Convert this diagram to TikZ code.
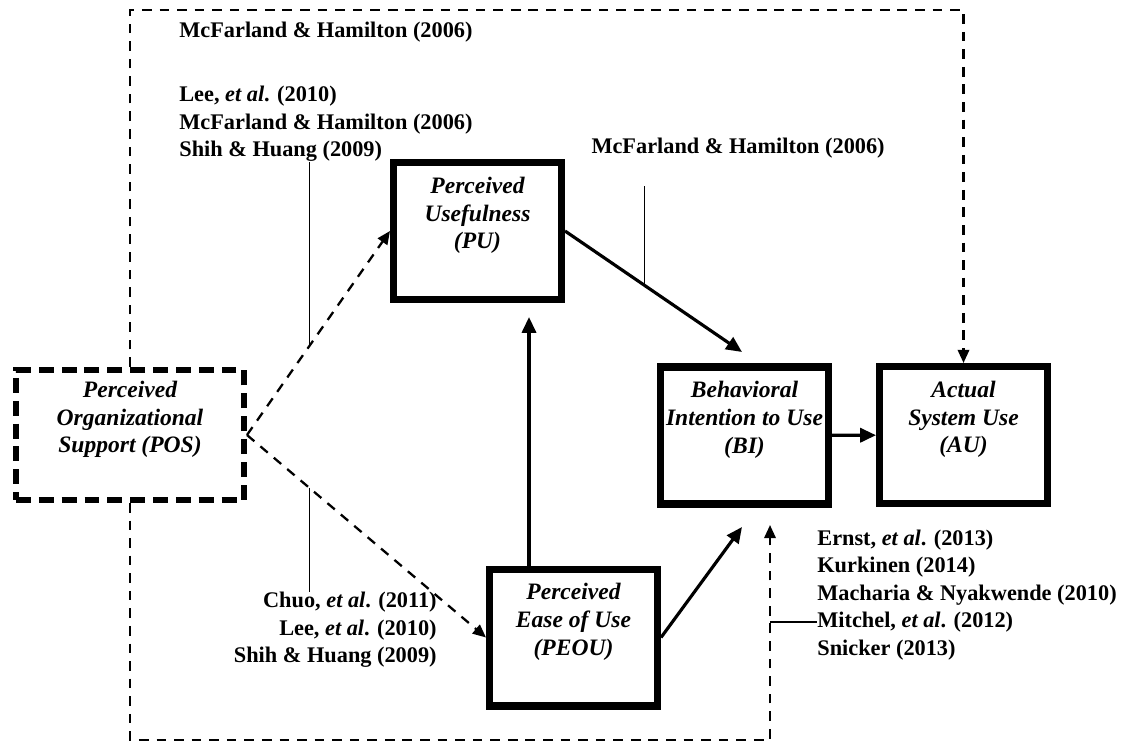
\documentclass[tikz,border=0pt]{standalone}
\usepackage{fontspec}
\setmainfont{Liberation Serif}
\usetikzlibrary{arrows.meta}

\begin{document}
\begin{tikzpicture}
  [x=0.02cm,y=-0.02cm,
  box/.style={draw,line width=4pt,minimum width=3.36cm,minimum height=2.74cm,inner sep=0pt,align=center,font=\fontsize{13.4}{15.9}\selectfont\bfseries\itshape},
  posbox/.style={box,line width=3.4pt,dash pattern=on 8.5pt off 4.5pt,minimum width=4.56cm,minimum height=2.6cm},
  ref/.style={inner sep=0pt,font=\fontsize{12.7}{15.6}\selectfont\bfseries},
  arr/.style={line width=1.8pt,-{Triangle[length=9pt,width=8pt]}},
  dasharr/.style={line width=1.3pt,dash pattern=on 5.5pt off 4.5pt,-{Triangle[length=7.5pt,width=6.5pt]}},
  lead/.style={line width=0.6pt}]
  \useasboundingbox (0,0) rectangle (1141,742);

  \node[posbox] (pos) at (130,435) {Perceived\\Organizational\\Support (POS)\\\strut};
  \node[box] (pu) at (477.5,231) {Perceived\\Usefulness\\(PU)\\\strut};
  \node[box] (peou) at (573.5,637.5) {Perceived\\Ease of Use\\(PEOU)\\\strut};
  \node[box] (bi) at (744.5,435.5) {Behavioral\\Intention to Use\\(BI)\\\strut};
  \node[box] (au) at (963.5,435) {Actual\\System Use\\(AU)\\\strut};

  \node[ref,anchor=west] (r1) at (179,32) {McFarland \& Hamilton (2006)};
  \node[ref,anchor=west,align=left] (r2) at (179,124) {Lee, \textit{et al}. (2010)\\McFarland \& Hamilton (2006)\\Shih \& Huang (2009)};
  \node[ref,anchor=east] (r3) at (885,148) {McFarland \& Hamilton (2006)};
  \node[ref,anchor=east,align=right] (r4) at (437,630) {Chuo, \textit{et al}. (2011)\\Lee, \textit{et al}. (2010)\\Shih \& Huang (2009)};
  \node[ref,anchor=west,align=left] (r5) at (817,595) {Ernst, \textit{et al}. (2013)\\Kurkinen (2014)\\Macharia \& Nyakwende (2010)\\Mitchel, \textit{et al}. (2012)\\Snicker (2013)};

  \coordinate (topline) at (0,10);
  \coordinate (botline) at (0,740);
  \coordinate (puin) at (529,317);
  \coordinate (bitop) at (742,352);
  \coordinate (bibot) at (742,527);
  \coordinate (bifb) at (770,525);
  \coordinate (m4) at (770,622);

  \draw [dasharr] (pos.north) -- (pos.north |- topline) -| (au.north);
  \draw [dasharr] (pos.south) -- (pos.south |- botline) -| (bifb);
  \draw [dasharr] (pos.east) -- coordinate[pos=0.44] (m1) (pu.west);
  \draw [dasharr] (pos.east) -- coordinate[pos=0.26] (m3) (peou.west);

  \draw [arr] (peou.north -| puin) -- (puin);
  \draw [arr] (pu.east) -- coordinate[pos=0.45] (m2) (bitop);
  \draw [arr] (peou.east) -- (bibot);
  \draw [arr] (bi) -- (au);

  \draw [lead] (m1) -- (m1 |- r2.south);
  \draw [lead] (m2) -- ++(0,-99);
  \draw [lead] (m3) -- (m3 |- r4.north);
  \draw [lead] (m4) -- (m4 -| r5.west);
\end{tikzpicture}
\end{document}
